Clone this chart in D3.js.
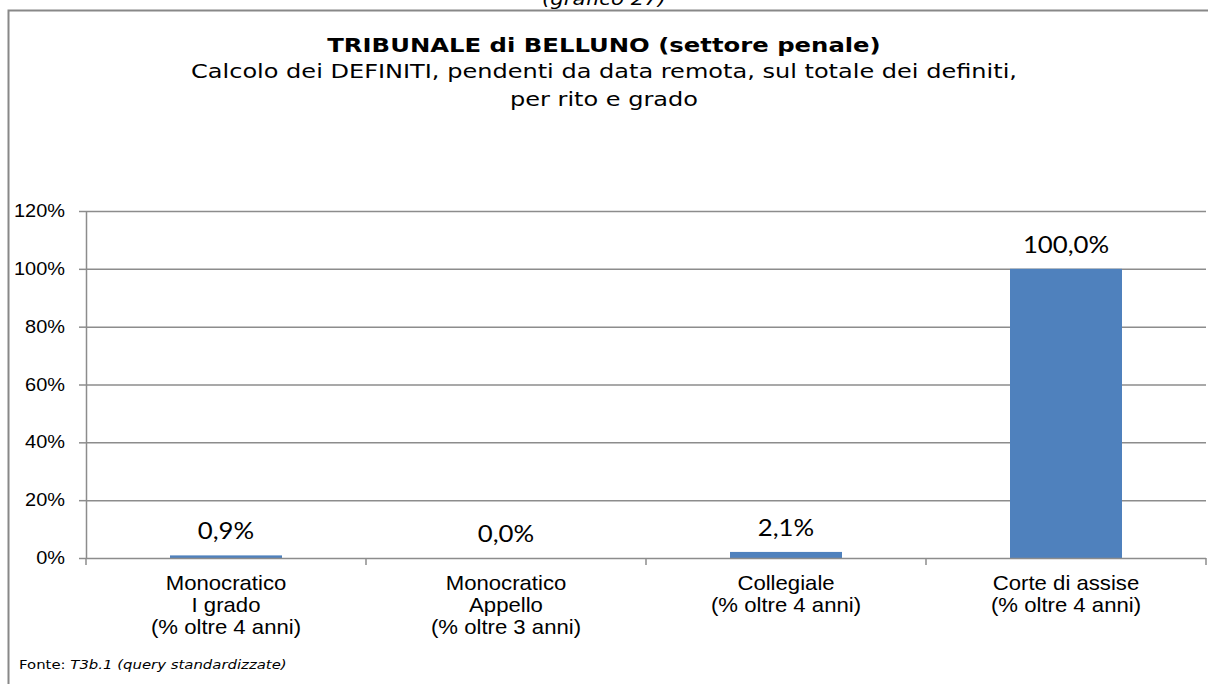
<!DOCTYPE html>
<html>
<head>
<meta charset="utf-8">
<script src="https://cdn.jsdelivr.net/npm/d3@7"></script>
<style>
  body { margin: 0; background: #fff; }
  svg { display: block; }
</style>
</head>
<body>
<svg width="1208" height="684"></svg>
<script>
let categories = [
  ['Monocratico', 'I grado', '(% oltre 4 anni)'],
  ['Monocratico', 'Appello', '(% oltre 3 anni)'],
  ['Collegiale', '(% oltre 4 anni)'],
  ['Corte di assise', '(% oltre 4 anni)']
];
let values = [0.9, 0.0, 2.1, 100.0];
let yTicks = [0, 20, 40, 60, 80, 100, 120];

let svg = d3.select('svg');
let margin = {top: 211, right: 2, bottom: 126, left: 86};
let width = +svg.attr('width') - margin.left - margin.right;
let height = +svg.attr('height') - margin.top - margin.bottom;

// the source picture is a little wider than tall, so text gets a horizontal stretch
function place(x, y, sx) {
  return 'translate(' + x + ',' + y + ') scale(' + sx + ',1)';
}

// outer frame
svg.append('rect')
  .attr('x', 8.5).attr('y', 10.5)
  .attr('width', 1210).attr('height', 700)
  .attr('fill', 'none')
  .attr('stroke', '#888')
  .attr('stroke-width', 2);

svg.append('text')
  .attr('transform', place(604, 5, 1.25))
  .attr('text-anchor', 'middle')
  .style('font', 'italic 17px "DejaVu Sans", Verdana, sans-serif')
  .text('(grafico 27)');

let titles = svg.append('g').attr('text-anchor', 'middle')
  .style('font-family', '"DejaVu Sans", Verdana, sans-serif');
titles.append('text').attr('transform', place(604, 52, 1.28))
  .style('font-weight', 'bold').style('font-size', '19px')
  .text('TRIBUNALE di BELLUNO (settore penale)');
titles.append('text').attr('transform', place(604, 78, 1.265))
  .style('font-size', '19px')
  .text('Calcolo dei DEFINITI, pendenti da data remota, sul totale dei definiti,');
titles.append('text').attr('transform', place(604, 106, 1.265))
  .style('font-size', '19px')
  .text('per rito e grado');

let g = svg.append('g').attr('transform', 'translate(' + margin.left + ',' + margin.top + ')');

let x = d3.scaleBand().domain(d3.range(categories.length)).range([0, width]).paddingInner(0.6).paddingOuter(0.3);
let xTick = d3.scaleLinear().domain([0, categories.length]).range([0, width]);
let y = d3.scaleLinear().domain([0, 120]).range([height, 0]);

// gridlines
g.append('g')
  .selectAll('line')
  .data(yTicks.slice(1))
  .join('line')
  .attr('x1', 0).attr('x2', width)
  .attr('y1', d => y(d) + 0.5).attr('y2', d => y(d) + 0.5)
  .attr('stroke', '#8c8c8c')
  .attr('stroke-width', 1.5);

// y axis
let yAxis = g.append('g')
  .call(d3.axisLeft(y).tickValues(yTicks).tickSize(7).tickPadding(14).tickFormat(d => d + '%'));
yAxis.selectAll('line, path').attr('stroke', '#8c8c8c').attr('stroke-width', 1.5);
yAxis.select('.domain').attr('d', 'M0.5,0V' + height);
yAxis.selectAll('text')
  .attr('fill', '#000')
  .attr('x', -21 / 1.14)
  .attr('transform', 'scale(1.14,1)')
  .style('font', '17.5px "Liberation Sans", Arial, sans-serif');

// bars
g.append('g')
  .selectAll('rect')
  .data(values)
  .join('rect')
  .attr('x', (d, i) => x(i))
  .attr('y', d => y(d))
  .attr('width', x.bandwidth())
  .attr('height', d => height - y(d))
  .attr('fill', '#4f81bd');

// data labels
g.append('g')
  .selectAll('text')
  .data(values)
  .join('text')
  .attr('transform', (d, i) => place(x(i) + x.bandwidth() / 2, y(d) - 16, 1.12))
  .attr('text-anchor', 'middle')
  .style('font', '23px Lato, "Open Sans", sans-serif')
  .text(d => d3.format('.1f')(d).replace('.', ',') + '%');

// x axis
let xAxis = g.append('g').attr('transform', 'translate(0,' + height + ')');
xAxis.append('line')
  .attr('x1', 0).attr('x2', width)
  .attr('y1', 0.5).attr('y2', 0.5)
  .attr('stroke', '#8c8c8c').attr('stroke-width', 1.5);
xAxis.selectAll('.tick')
  .data(d3.range(categories.length + 1))
  .join('line')
  .attr('x1', d => xTick(d)).attr('x2', d => xTick(d))
  .attr('y1', 0).attr('y2', 7)
  .attr('stroke', '#8c8c8c').attr('stroke-width', 1.5);

xAxis.selectAll('text.cat')
  .data(categories)
  .join('text')
  .attr('class', 'cat')
  .attr('text-anchor', 'middle')
  .attr('transform', (d, i) => place(x(i) + x.bandwidth() / 2, 32, 1.08))
  .style('font', '20.5px "Liberation Sans", Arial, sans-serif')
  .selectAll('tspan')
  .data(d => d)
  .join('tspan')
  .attr('x', 0)
  .attr('dy', (d, i) => i === 0 ? 0 : 22)
  .text(d => d);

// source note
let src = svg.append('text')
  .attr('transform', place(19, 669, 1.145))
  .style('font', '13px "DejaVu Sans", Verdana, sans-serif');
src.append('tspan').text('Fonte: ');
src.append('tspan').style('font-style', 'italic').text('T3b.1 (query standardizzate)');
</script>
</body>
</html>
